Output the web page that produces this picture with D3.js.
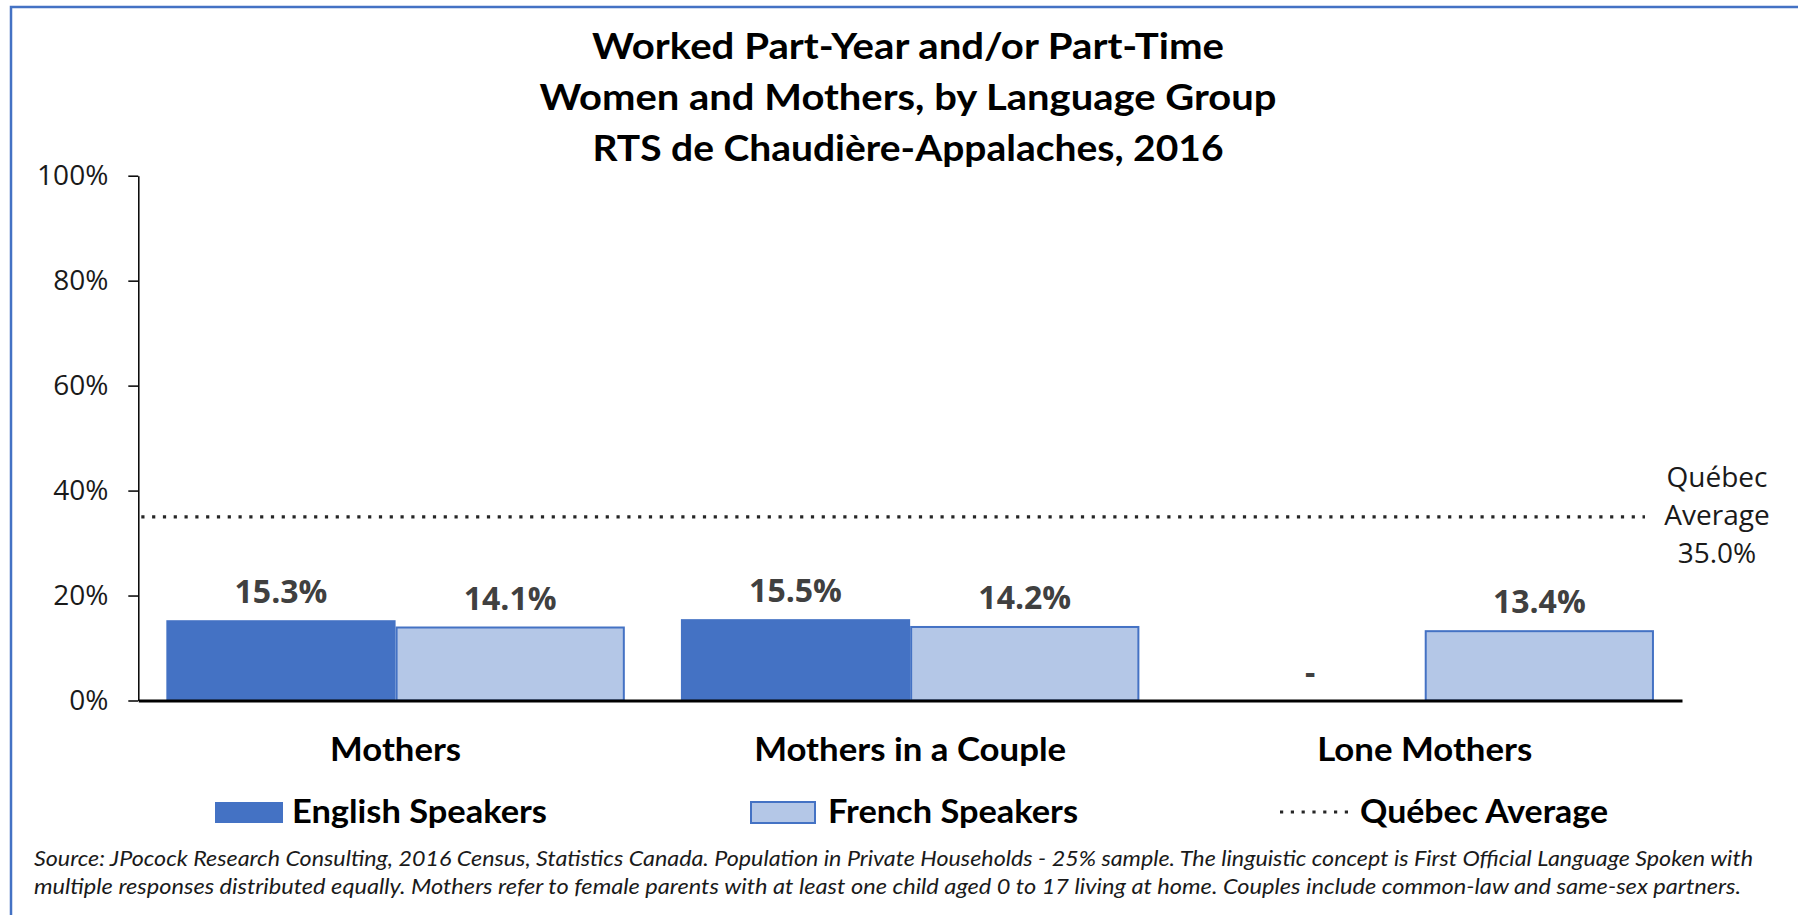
<!DOCTYPE html>
<html>
<head>
<meta charset="utf-8">
<script src="https://cdn.jsdelivr.net/npm/d3@7"></script>
<style>
  html, body { margin: 0; padding: 0; background: #fff; }
  svg { display: block; }
</style>
</head>
<body>
<svg id="chart" width="1798" height="915"></svg>
<script>
// ---------------- DATA ----------------
const categories = ["Mothers", "Mothers in a Couple", "Lone Mothers"];
const seriesNames = ["English Speakers", "French Speakers"];
const englishValues = [15.3, 15.5, null];
const frenchValues = [14.1, 14.2, 13.4];
const quebecAverage = 35.0;
const quebecLabelLines = ["Québec", "Average", "35.0%"];
const yTickValues = [0, 20, 40, 60, 80, 100];
const titleLines = [
  "Worked Part-Year and/or Part-Time",
  "Women and Mothers, by Language Group",
  "RTS de Chaudière-Appalaches, 2016"
];
const legendLabels = ["English Speakers", "French Speakers", "Québec Average"];
const sourceLines = [
  "Source: JPocock Research Consulting, 2016 Census, Statistics Canada. Population in Private Households - 25% sample. The linguistic concept is First Official Language Spoken with",
  "multiple responses distributed equally. Mothers refer to female parents with at least one child aged 0 to 17 living at home. Couples include common-law and same-sex partners."
];

// ---------------- STYLE / LAYOUT ----------------
const colEnglish = "#4472C4", colFrench = "#B4C7E7", colLabel = "#404040";
const titleFont = "Lato, Carlito, Calibri, sans-serif";
const tickFont = "'Open Sans', 'Segoe UI', sans-serif";

const svg = d3.select("#chart");

// chart frame
svg.append("rect").attr("x", 11).attr("y", 7).attr("width", 1800).attr("height", 920)
  .attr("fill", "#fff").attr("stroke", colEnglish).attr("stroke-width", 2.5);

const y = d3.scaleLinear().domain([0, 100]).range([700.5, 175.7]);
const x0 = d3.scaleBand().domain(categories).range([138.3, 1682])
  .paddingInner(0.109).paddingOuter(0.0545);
const x1 = d3.scaleBand().domain(seriesNames).range([0, x0.bandwidth()]);

const rows = categories.map((c, i) => ({
  cat: c,
  vals: [
    { s: seriesNames[0], v: englishValues[i] },
    { s: seriesNames[1], v: frenchValues[i] }
  ]
}));

// Title
const titleW = [632, 737, 631];
const titleY = [58.5, 110, 161];
svg.append("g").selectAll("text").data(titleLines).join("text")
  .attr("x", 908).attr("y", (d, i) => titleY[i])
  .attr("text-anchor", "middle")
  .attr("font-family", titleFont).attr("font-weight", "bold").attr("font-size", 36)
  .attr("fill", "#000")
  .attr("textLength", (d, i) => titleW[i]).attr("lengthAdjust", "spacingAndGlyphs")
  .text(d => d);

// Y axis
const yAxis = svg.append("g").attr("transform", `translate(${x0.range()[0]},0)`)
  .call(d3.axisLeft(y).tickValues(yTickValues).tickFormat(d => d + "%")
    .tickSize(10).tickSizeOuter(0).tickPadding(20));
yAxis.select(".domain").attr("stroke", "#000").attr("stroke-width", 1.5);
yAxis.selectAll(".tick line").attr("stroke", "#000").attr("stroke-width", 1.5);
yAxis.selectAll(".tick text").attr("font-family", tickFont).attr("font-size", 28)
  .attr("fill", "#1a1a1a");

// Bars
const groups = svg.append("g").selectAll("g").data(rows).join("g")
  .attr("transform", d => `translate(${x0(d.cat)},0)`);

groups.selectAll("rect").data(d => d.vals.filter(v => v.v !== null)).join("rect")
  .attr("x", d => x1(d.s) + (d.s === seriesNames[1] ? 1 : 0))
  .attr("y", d => y(d.v) + (d.s === seriesNames[1] ? 1 : 0))
  .attr("width", d => x1.bandwidth() - (d.s === seriesNames[1] ? 2 : 0))
  .attr("height", d => y(0) - y(d.v) - (d.s === seriesNames[1] ? 1 : 0))
  .attr("fill", d => d.s === seriesNames[0] ? colEnglish : colFrench)
  .attr("stroke", d => d.s === seriesNames[1] ? colEnglish : "none")
  .attr("stroke-width", 2);

// Value labels
groups.selectAll("text.val").data(d => d.vals).join("text").attr("class", "val")
  .attr("x", d => x1(d.s) + x1.bandwidth() / 2)
  .attr("y", d => y(d.v === null ? 0 : d.v) - 17)
  .attr("text-anchor", "middle")
  .attr("font-family", tickFont).attr("font-weight", "bold").attr("font-size", 32)
  .attr("fill", colLabel)
  .text(d => d.v === null ? "-" : d.v.toFixed(1) + "%");

// Québec average line
svg.append("line")
  .attr("x1", x0.range()[0] + 3).attr("x2", 1645)
  .attr("y1", y(quebecAverage)).attr("y2", y(quebecAverage))
  .attr("stroke", "#262626").attr("stroke-width", 3.2)
  .attr("stroke-dasharray", "3.2,7.6");

svg.append("g").selectAll("text").data(quebecLabelLines).join("text")
  .attr("x", 1717).attr("y", (d, i) => y(quebecAverage) - 30 + i * 38.3)
  .attr("text-anchor", "middle")
  .attr("font-family", tickFont).attr("font-size", 28).attr("fill", "#1a1a1a")
  .text(d => d);

// X axis
const catW = { "Mothers": 131, "Mothers in a Couple": 312, "Lone Mothers": 215 };
const xAxis = svg.append("g").attr("transform", `translate(0,${y(0)})`)
  .call(d3.axisBottom(x0).tickSize(0).tickSizeOuter(0).tickPadding(38));
xAxis.select(".domain").attr("stroke", "#000").attr("stroke-width", 2.8);
xAxis.selectAll(".tick text")
  .attr("font-family", titleFont).attr("font-weight", "bold").attr("font-size", 32)
  .attr("fill", "#000")
  .attr("textLength", d => catW[d]).attr("lengthAdjust", "spacingAndGlyphs");

// Legend
const legend = svg.append("g");
const legSw = [{ x: 215, w: 68 }, { x: 750, w: 66 }];
const legTx = [{ x: 292, w: 255 }, { x: 828, w: 250 }, { x: 1360, w: 248 }];
legend.selectAll("rect").data(seriesNames).join("rect")
  .attr("x", (d, i) => legSw[i].x + (i === 1 ? 1 : 0)).attr("y", 802)
  .attr("width", (d, i) => legSw[i].w - (i === 1 ? 2 : 0)).attr("height", 21)
  .attr("fill", (d, i) => i === 0 ? colEnglish : colFrench)
  .attr("stroke", (d, i) => i === 1 ? colEnglish : "none").attr("stroke-width", 2);
legend.append("line").attr("x1", 1280).attr("x2", 1348).attr("y1", 812).attr("y2", 812)
  .attr("stroke", "#262626").attr("stroke-width", 3.2).attr("stroke-dasharray", "3.2,7.6");
legend.selectAll("text").data(legendLabels).join("text")
  .attr("x", (d, i) => legTx[i].x).attr("y", 823)
  .attr("font-family", titleFont).attr("font-weight", "bold").attr("font-size", 32)
  .attr("fill", "#000")
  .attr("textLength", (d, i) => legTx[i].w).attr("lengthAdjust", "spacingAndGlyphs")
  .text(d => d);

// Source note
const srcW = [1719, 1707];
svg.append("g").selectAll("text").data(sourceLines).join("text")
  .attr("x", 34).attr("y", (d, i) => 866 + i * 27.5)
  .attr("font-family", titleFont).attr("font-style", "italic").attr("font-size", 21)
  .attr("fill", "#1a1a1a")
  .attr("textLength", (d, i) => srcW[i]).attr("lengthAdjust", "spacingAndGlyphs")
  .text(d => d);
</script>
</body>
</html>
